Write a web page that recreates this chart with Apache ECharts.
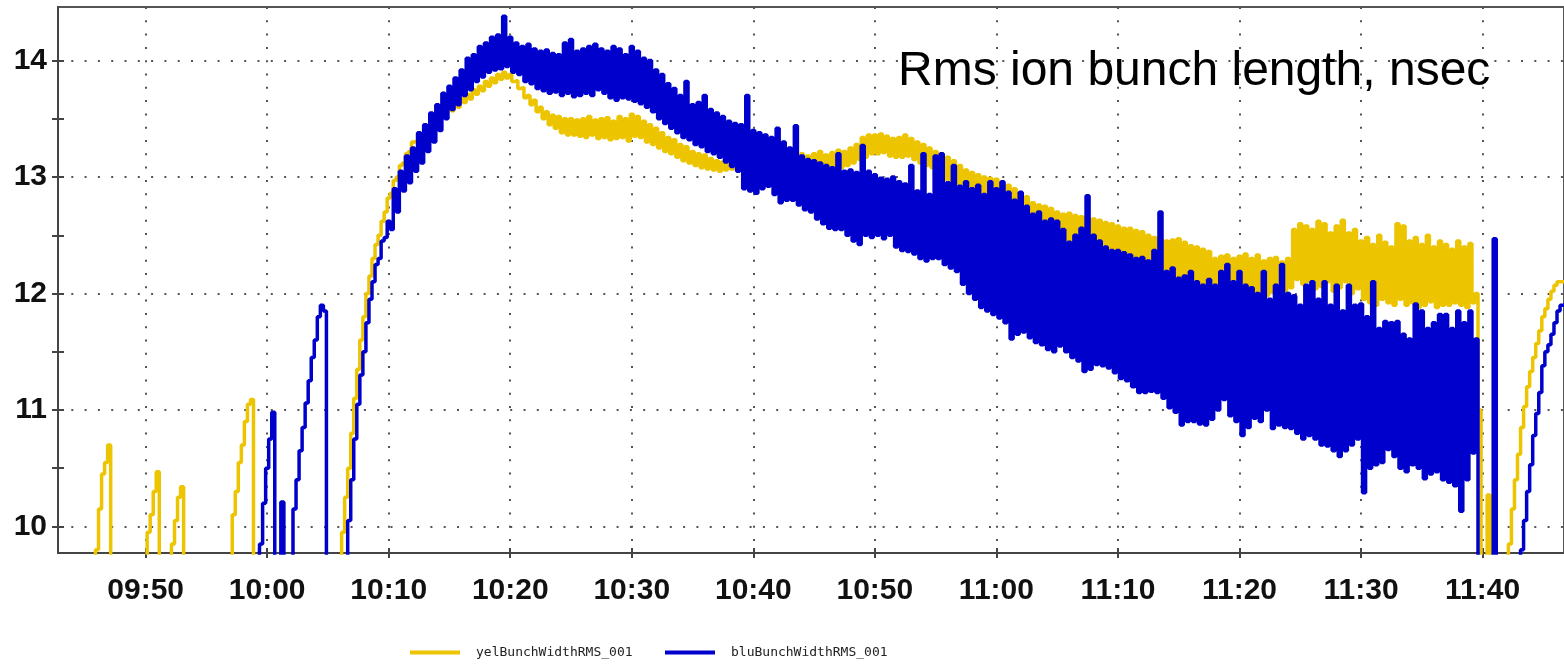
<!DOCTYPE html>
<html>
<head>
<meta charset="utf-8">
<script src="https://cdn.jsdelivr.net/npm/echarts@6/dist/echarts.min.js"></script>
<style>html,body{margin:0;padding:0;background:#fff}#c{width:1564px;height:669px}</style>
</head>
<body>
<div id="c"></div>
<script>
// time axis: minutes after 09:00; samples every 15 s starting 09:45
const T0 = 45, STEP = 0.25;
const titleText = 'Rms ion bunch length, nsec';
const seriesNames = ['yelBunchWidthRMS_001', 'bluBunchWidthRMS_001'];
const xTickValues = [50, 60, 70, 80, 90, 100, 110, 120, 130, 140, 150, 160];
const xTickLabels = ['09:50', '10:00', '10:10', '10:20', '10:30', '10:40', '10:50', '11:00', '11:10', '11:20', '11:30', '11:40'];
const yTickValues = [10, 11, 12, 13, 14];
const yTickLabels = ['10', '11', '12', '13', '14'];
const yHalfTickValues = [10, 10.5, 11, 11.5, 12, 12.5, 13, 13.5, 14];

// yellow ring, one row = one minute (4 samples)
const yelValues = [
  9.0, 9.0, 9.0, 9.0,        // 45
  9.8, 10.15, 10.45, 10.55,  // 46
  10.7, 9.0, 9.0, 9.0,       // 47
  9.0, 9.0, 9.0, 9.0,        // 48
  9.0, 9.0, 9.0, 9.0,        // 49
  9.0, 9.95, 10.1, 10.3,     // 50
  10.47, 9.0, 9.0, 9.0,      // 51
  9.0, 9.85, 10.05, 10.25,   // 52
  10.34, 9.0, 9.0, 9.0,      // 53
  9.0, 9.0, 9.0, 9.0,        // 54
  9.0, 9.0, 9.0, 9.0,        // 55
  9.0, 9.0, 9.0, 9.0,        // 56
  9.0, 10.1, 10.3, 10.55,    // 57
  10.7, 10.9, 11.05, 11.09,  // 58
  9.0, 9.0, 9.0, 9.0,        // 59
  9.0, 9.0, 9.0, 9.0,        // 60
  9.0, 9.0, 9.0, 9.0,        // 61
  9.0, 9.0, 9.0, 9.0,        // 62
  9.0, 9.0, 9.0, 9.0,        // 63
  9.0, 9.0, 9.0, 9.0,        // 64
  9.0, 9.0, 9.0, 9.0,        // 65
  9.6, 9.95, 10.25, 10.5,    // 66
  10.8, 11.1, 11.35, 11.6,   // 67
  11.8, 12.0, 12.15, 12.3,   // 68
  12.42, 12.5, 12.62, 12.7,  // 69
  12.82, 12.86, 12.97, 13.0, // 70
  13.1, 13.12, 13.2, 13.22,  // 71
  13.3, 13.31, 13.37, 13.37, // 72
  13.43, 13.41, 13.48, 13.46,// 73
  13.53, 13.51, 13.58, 13.56,// 74
  13.61, 13.57, 13.64, 13.6, // 75
  13.68, 13.64, 13.71, 13.67,// 76
  13.75, 13.71, 13.78, 13.74,// 77
  13.82, 13.78, 13.85, 13.81,// 78
  13.88, 13.84, 13.9, 13.85, // 79
  13.88, 13.82, 13.83, 13.76,// 80
  13.77, 13.68, 13.7, 13.62, // 81
  13.66, 13.56, 13.6, 13.5,  // 82
  13.56, 13.45, 13.53, 13.42,// 83
  13.52, 13.38, 13.5, 13.36, // 84
  13.5, 13.36, 13.49, 13.35, // 85
  13.5, 13.34, 13.52, 13.36, // 86
  13.49, 13.33, 13.5, 13.34, // 87
  13.51, 13.32, 13.48, 13.33,// 88
  13.52, 13.34, 13.5, 13.31, // 89
  13.54, 13.35, 13.52, 13.34,// 90
  13.48, 13.3, 13.45, 13.28, // 91
  13.42, 13.25, 13.38, 13.22,// 92
  13.34, 13.2, 13.32, 13.17, // 93
  13.28, 13.14, 13.26, 13.12,// 94
  13.22, 13.1, 13.2, 13.08,  // 95
  13.19, 13.07, 13.16, 13.06,// 96
  13.14, 13.05, 13.13, 13.06,// 97
  13.14, 13.07, 13.12, 13.06,// 98
  13.13, 13.04, 13.14, 13.03,// 99
  13.15, 13.03, 13.13, 13.02,// 100
  13.14, 13.04, 13.15, 13.03,// 101
  13.16, 13.04, 13.15, 13.05,// 102
  13.17, 13.05, 13.18, 13.06,// 103
  13.2, 13.06, 13.18, 13.05, // 104
  13.2, 13.05, 13.22, 13.07, // 105
  13.19, 13.05, 13.21, 13.06,// 106
  13.23, 13.08, 13.22, 13.1, // 107
  13.25, 13.12, 13.28, 13.15,// 108
  13.34, 13.17, 13.36, 13.2, // 109
  13.36, 13.2, 13.37, 13.21, // 110
  13.35, 13.18, 13.33, 13.17,// 111
  13.34, 13.17, 13.36, 13.18,// 112
  13.33, 13.15, 13.3, 13.12, // 113
  13.28, 13.1, 13.25, 13.08, // 114
  13.22, 13.0, 13.2, 12.98,  // 115
  13.17, 12.95, 13.14, 12.9, // 116
  13.1, 12.85, 13.06, 12.8,  // 117
  13.04, 12.78, 13.02, 12.75,// 118
  13.0, 12.74, 12.99, 12.72, // 119
  12.98, 12.7, 12.95, 12.66, // 120
  12.93, 12.64, 12.9, 12.6,  // 121
  12.86, 12.58, 12.83, 12.54,// 122
  12.78, 12.5, 12.76, 12.48, // 123
  12.75, 12.47, 12.73, 12.44,// 124
  12.7, 12.42, 12.68, 12.4,  // 125
  12.69, 12.41, 12.67, 12.4, // 126
  12.66, 12.38, 12.65, 12.37,// 127
  12.64, 12.35, 12.63, 12.34,// 128
  12.61, 12.32, 12.6, 12.3,  // 129
  12.58, 12.28, 12.56, 12.26,// 130
  12.56, 12.24, 12.54, 12.22,// 131
  12.53, 12.2, 12.5, 12.18,  // 132
  12.48, 12.15, 12.47, 12.14,// 133
  12.45, 12.12, 12.46, 12.11,// 134
  12.47, 12.1, 12.44, 12.1,  // 135
  12.41, 12.08, 12.4, 12.06, // 136
  12.38, 12.05, 12.36, 12.03,// 137
  12.3, 12.0, 12.32, 12.0,   // 138
  12.33, 12.02, 12.3, 11.98, // 139
  12.32, 12.0, 12.34, 12.03, // 140
  12.3, 12.0, 12.33, 11.99,  // 141
  12.28, 11.98, 12.3, 12.01, // 142
  12.31, 12.02, 12.27, 11.99,// 143
  12.3, 12.05, 12.55, 12.12, // 144
  12.6, 12.08, 12.58, 12.1,  // 145
  12.55, 12.04, 12.62, 12.06,// 146
  12.6, 12.1, 12.52, 12.02,  // 147
  12.58, 12.05, 12.63, 12.1, // 148
  12.52, 12.0, 12.55, 12.04, // 149
  12.45, 11.95, 12.48, 11.92,// 150
  12.42, 11.9, 12.5, 11.95,  // 151
  12.44, 11.92, 12.4, 11.9,  // 152
  12.6, 11.95, 12.58, 11.9,  // 153
  12.45, 11.92, 12.48, 11.88,// 154
  12.42, 11.9, 12.5, 11.93,  // 155
  12.4, 11.88, 12.45, 11.9,  // 156
  12.42, 11.9, 12.38, 11.92, // 157
  12.45, 11.9, 12.4, 11.88,  // 158
  12.43, 11.92, 12.0, 11.0,  // 159
  9.0, 9.0, 10.27, 9.0,      // 160
  9.0, 9.0, 9.0, 9.0,        // 161
  9.0, 9.85, 10.15, 10.4,    // 162
  10.62, 10.85, 11.03, 11.2, // 163
  11.33, 11.45, 11.57, 11.68,// 164
  11.8, 11.87, 11.95, 12.02, // 165
  12.07, 12.1, 12.1, 12.1    // 166
];

// blue ring
const bluValues = [
  9.0, 9.0, 9.0, 9.0,        // 45
  9.0, 9.0, 9.0, 9.0,        // 46
  9.0, 9.0, 9.0, 9.0,        // 47
  9.0, 9.0, 9.0, 9.0,        // 48
  9.0, 9.0, 9.0, 9.0,        // 49
  9.0, 9.0, 9.0, 9.0,        // 50
  9.0, 9.0, 9.0, 9.0,        // 51
  9.0, 9.0, 9.0, 9.0,        // 52
  9.0, 9.0, 9.0, 9.0,        // 53
  9.0, 9.0, 9.0, 9.0,        // 54
  9.0, 9.0, 9.0, 9.0,        // 55
  9.0, 9.0, 9.0, 9.0,        // 56
  9.0, 9.0, 9.0, 9.0,        // 57
  9.0, 9.0, 9.0, 9.0,        // 58
  9.0, 9.0, 9.85, 10.2,      // 59
  10.5, 10.75, 10.98, 9.0,   // 60
  9.0, 10.21, 9.0, 9.0,      // 61
  9.6, 10.15, 10.4, 10.65,   // 62
  10.85, 11.06, 11.25, 11.45,// 63
  11.6, 11.8, 11.9, 11.85,   // 64
  9.0, 9.0, 9.0, 9.0,        // 65
  9.0, 9.0, 9.7, 10.05,      // 66
  10.4, 10.75, 11.05, 11.3,  // 67
  11.5, 11.75, 11.95, 12.1,  // 68
  12.25, 12.3, 12.45, 12.48, // 69
  12.62, 12.55, 12.9, 12.7,  // 70
  13.05, 12.88, 13.18, 12.95,// 71
  13.25, 13.05, 13.38, 13.12,// 72
  13.45, 13.22, 13.55, 13.3, // 73
  13.62, 13.4, 13.72, 13.5,  // 74
  13.78, 13.58, 13.85, 13.62,// 75
  13.92, 13.7, 14.02, 13.75, // 76
  14.05, 13.82, 14.12, 13.86,// 77
  14.15, 13.9, 14.2, 13.92,  // 78
  14.22, 13.93, 14.38, 13.95,// 79
  14.2, 13.9, 14.15, 13.88,  // 80
  14.12, 13.82, 14.14, 13.8, // 81
  14.1, 13.76, 14.08, 13.74, // 82
  14.09, 13.72, 14.06, 13.73,// 83
  14.05, 13.7, 14.15, 13.72, // 84
  14.18, 13.69, 14.08, 13.7, // 85
  14.1, 13.72, 14.12, 13.7,  // 86
  14.14, 13.75, 14.1, 13.72, // 87
  14.08, 13.68, 14.12, 13.66,// 88
  14.1, 13.68, 14.05, 13.67, // 89
  14.12, 13.65, 14.08, 13.63,// 90
  14.02, 13.6, 14.0, 13.56,  // 91
  13.92, 13.5, 13.88, 13.46, // 92
  13.8, 13.42, 13.76, 13.38, // 93
  13.7, 13.34, 13.82, 13.32, // 94
  13.62, 13.28, 13.64, 13.26,// 95
  13.7, 13.22, 13.58, 13.2,  // 96
  13.55, 13.17, 13.52, 13.13,// 97
  13.48, 13.09, 13.46, 13.05,// 98
  13.45, 12.9, 13.7, 12.88,  // 99
  13.4, 12.86, 13.38, 12.9,  // 100
  13.36, 12.92, 13.34, 12.85,// 101
  13.42, 12.78, 13.3, 12.8,  // 102
  13.25, 12.8, 13.44, 12.76, // 103
  13.18, 12.72, 13.15, 12.7, // 104
  13.14, 12.64, 13.12, 12.6, // 105
  13.1, 12.56, 13.08, 12.55, // 106
  13.2, 12.55, 13.05, 12.5,  // 107
  13.06, 12.45, 13.04, 12.42,// 108
  13.27, 12.5, 13.05, 12.48, // 109
  13.02, 12.5, 12.99, 12.47, // 110
  12.98, 12.5, 13.0, 12.4,   // 111
  12.96, 12.37, 12.94, 12.36,// 112
  13.1, 12.34, 12.88, 12.3,  // 113
  13.2, 12.28, 12.85, 12.3,  // 114
  13.18, 12.3, 13.2, 12.25,  // 115
  12.95, 12.22, 13.1, 12.19, // 116
  12.92, 12.08, 12.96, 12.0, // 117
  12.9, 11.95, 12.93, 11.88, // 118
  12.85, 11.85, 12.96, 11.82,// 119
  12.9, 11.79, 12.96, 11.75, // 120
  12.87, 11.61, 12.8, 11.65, // 121
  12.87, 11.67, 12.75, 11.62,// 122
  12.68, 11.58, 12.7, 11.56, // 123
  12.62, 11.52, 12.64, 11.5, // 124
  12.62, 11.55, 12.55, 11.5, // 125
  12.44, 11.45, 12.5, 11.42, // 126
  12.56, 11.33, 12.84, 11.35,// 127
  12.5, 11.39, 12.45, 11.38, // 128
  12.4, 11.36, 12.37, 11.32, // 129
  12.37, 11.27, 12.35, 11.25,// 130
  12.33, 11.2, 12.3, 11.15,  // 131
  12.31, 11.15, 12.28, 11.16,// 132
  12.37, 11.15, 12.7, 11.1,  // 133
  12.19, 11.02, 12.22, 10.98,// 134
  12.13, 10.87, 12.15, 10.9, // 135
  12.19, 10.9, 12.1, 10.88,  // 136
  12.07, 10.87, 12.12, 10.92,// 137
  12.07, 11.0, 12.19, 11.09, // 138
  12.25, 10.95, 12.1, 10.9,  // 139
  12.19, 10.78, 12.07, 10.85,// 140
  12.05, 10.93, 12.0, 10.9,  // 141
  12.19, 11.0, 11.95, 10.84, // 142
  12.07, 10.87, 12.25, 10.85,// 143
  12.0, 10.84, 11.98, 10.8,  // 144
  11.9, 10.75, 12.07, 10.78, // 145
  12.1, 10.75, 11.95, 10.7,  // 146
  12.1, 10.69, 11.9, 10.65,  // 147
  12.07, 10.6, 11.85, 10.65, // 148
  12.07, 10.7, 11.9, 10.75,  // 149
  11.91, 10.29, 11.8, 10.5,  // 150
  12.1, 10.53, 11.7, 10.55,  // 151
  11.76, 10.66, 11.75, 10.6, // 152
  11.76, 10.5, 11.65, 10.47, // 153
  11.61, 10.53, 11.91, 10.5, // 154
  11.85, 10.41, 11.7, 10.45, // 155
  11.75, 10.47, 11.82, 10.4, // 156
  11.82, 10.38, 11.7, 10.35, // 157
  11.85, 10.13, 11.75, 10.4, // 158
  11.85, 10.63, 11.61, 9.0,  // 159
  9.0, 9.0, 9.0, 9.0,        // 160
  12.47, 9.0, 9.0, 9.0,      // 161
  9.0, 9.0, 9.0, 9.0,        // 162
  9.0, 9.8, 10.05, 10.3,     // 163
  10.53, 10.78, 10.97, 11.15,// 164
  11.38, 11.5, 11.56, 11.65, // 165
  11.75, 11.85, 11.9, 11.9   // 166
];

const X_MIN = 42.79, X_MAX = 166.70, Y_MIN = 9.772, Y_MAX = 14.46;
const YEL = '#ECC400', BLU = '#0000CC', AXC = '#444';

function toPairs(vals) { return vals.map((v, i) => [T0 + i * STEP, v]); }
function xFmt(v) { const k = xTickValues.indexOf(Math.round(v)); return k >= 0 ? xTickLabels[k] : ''; }
function yFmt(v) { const k = yTickValues.indexOf(Math.round(v * 1000) / 1000); return k >= 0 ? yTickLabels[k] : ''; }

const gridLine = { show: true, lineStyle: { type: [2, 11.3], width: 2, color: '#555' } };
const labelFont = { fontFamily: 'Liberation Sans', fontWeight: 'bold', fontSize: 30, color: '#111' };
const legendText = { fontFamily: 'DejaVu Sans Mono', fontSize: 13, color: '#222', padding: [0, 0, 0, 11] };

const chart = echarts.init(document.getElementById('c'), null, { renderer: 'canvas' });
chart.setOption({
  animation: false,
  backgroundColor: '#fff',
  title: {
    text: titleText, left: 898, top: 48, padding: 0,
    textStyle: { fontFamily: 'Liberation Sans', fontWeight: 'normal', fontSize: 48, color: '#000' }
  },
  grid: { left: 58, top: 7, right: -2, bottom: 116, show: true, borderColor: '#555', borderWidth: 2, backgroundColor: 'transparent' },
  legend: [
    { data: [seriesNames[0]], left: 410, top: 646, padding: 0, icon: 'rect', itemWidth: 50, itemHeight: 4, textStyle: legendText },
    { data: [seriesNames[1]], left: 665, top: 646, padding: 0, icon: 'rect', itemWidth: 50, itemHeight: 4, textStyle: legendText }
  ],
  xAxis: [
    { type: 'value', min: X_MIN, max: X_MAX, minInterval: 10, maxInterval: 10, position: 'bottom',
      axisLine: { show: true, onZero: false, lineStyle: { color: AXC, width: 2 } },
      axisTick: { show: true, length: 5, customValues: xTickValues, lineStyle: { color: AXC, width: 2 } },
      axisLabel: Object.assign({ margin: 23, customValues: xTickValues, formatter: xFmt }, labelFont),
      splitLine: gridLine },
    { type: 'value', min: X_MIN, max: X_MAX, minInterval: 10, maxInterval: 10, position: 'bottom',
      axisLine: { show: false, onZero: false },
      axisTick: { show: true, inside: true, length: 5, customValues: xTickValues, lineStyle: { color: AXC, width: 2 } },
      axisLabel: { show: false }, splitLine: { show: false } }
  ],
  yAxis: [
    { type: 'value', min: Y_MIN, max: Y_MAX, minInterval: 1, maxInterval: 1, position: 'left',
      axisLine: { show: true, onZero: false, lineStyle: { color: AXC, width: 2 } },
      axisTick: { show: true, length: 6, customValues: yTickValues, lineStyle: { color: AXC, width: 2 } },
      axisLabel: Object.assign({ margin: 11, customValues: yTickValues, formatter: yFmt }, labelFont),
      splitLine: gridLine },
    { type: 'value', min: Y_MIN, max: Y_MAX, minInterval: 0.5, maxInterval: 0.5, position: 'left',
      axisLine: { show: false, onZero: false },
      axisTick: { show: true, length: 6, customValues: yHalfTickValues, lineStyle: { color: AXC, width: 2 } },
      axisLabel: { show: false }, splitLine: { show: false } },
    { type: 'value', min: Y_MIN, max: Y_MAX, minInterval: 0.5, maxInterval: 0.5, position: 'left',
      axisLine: { show: false, onZero: false },
      axisTick: { show: true, inside: true, length: 6, customValues: yHalfTickValues, lineStyle: { color: AXC, width: 2 } },
      axisLabel: { show: false }, splitLine: { show: false } }
  ],
  series: [
    { name: seriesNames[0], type: 'line', step: 'middle', data: toPairs(yelValues), showSymbol: false, symbol: 'none', sampling: 'none',
      clip: true, color: YEL, lineStyle: { color: YEL, width: 3.5 }, itemStyle: { color: YEL }, z: 2 },
    { name: seriesNames[1], type: 'line', step: 'middle', data: toPairs(bluValues), showSymbol: false, symbol: 'none', sampling: 'none',
      clip: true, color: BLU, lineStyle: { color: BLU, width: 3.5 }, itemStyle: { color: BLU }, z: 3 }
  ]
});
</script>
</body>
</html>
